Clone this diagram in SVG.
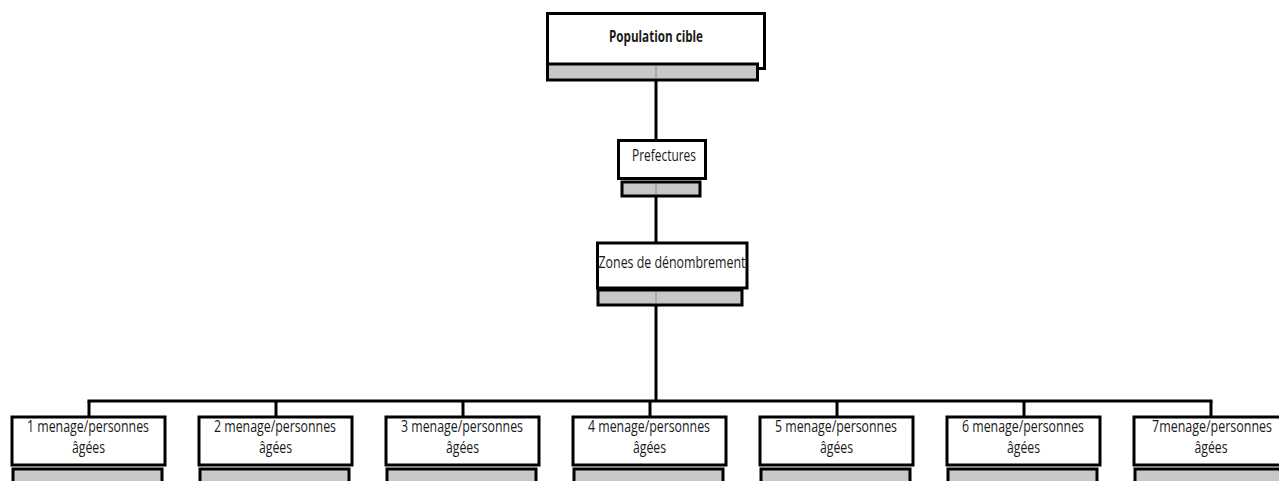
<svg xmlns="http://www.w3.org/2000/svg" width="1279" height="481" viewBox="0 0 1279 481">
<style>
.box{fill:#fff;stroke:#000;stroke-width:3}
.bar{fill:#c8c8c8;stroke:#000;stroke-width:3}
.stripe{stroke:#aaaaaa;stroke-width:2}
.con{stroke:#000;stroke-width:3;fill:none}
text{font-family:"Open Sans","Liberation Sans",sans-serif;font-size:16px;fill:#1a1a1a;text-anchor:middle}
.b{font-weight:bold}
</style>
<rect width="1279" height="481" fill="#fff"/>
<g id="connectors">
<line class="con" x1="656" y1="80" x2="656" y2="140"/>
<line class="con" x1="656" y1="196" x2="656" y2="243"/>
<line class="con" x1="656" y1="305" x2="656" y2="401"/>
<line class="con" x1="87.5" y1="401" x2="1212.5" y2="401"/>
<line class="con" x1="89" y1="401" x2="89" y2="417"/>
<line class="con" x1="276" y1="401" x2="276" y2="417"/>
<line class="con" x1="463" y1="401" x2="463" y2="417"/>
<line class="con" x1="650" y1="401" x2="650" y2="417"/>
<line class="con" x1="837" y1="401" x2="837" y2="417"/>
<line class="con" x1="1024" y1="401" x2="1024" y2="417"/>
<line class="con" x1="1211" y1="401" x2="1211" y2="417"/>
</g>
<g id="population">
<rect class="box" x="547.5" y="13.5" width="217" height="55"/>
<rect class="bar" x="547.5" y="64" width="210" height="16"/>
<line class="stripe" x1="656" y1="66" x2="656" y2="78"/>
<text class="b" x="656" y="42" textLength="94" lengthAdjust="spacingAndGlyphs">Population cible</text>
</g>
<g id="prefectures">
<rect class="box" x="618.5" y="140.5" width="87" height="38"/>
<rect class="bar" x="622" y="182" width="78" height="14"/>
<line class="stripe" x1="656" y1="184" x2="656" y2="194"/>
<text x="664" y="161" textLength="64" lengthAdjust="spacingAndGlyphs">Prefectures</text>
</g>
<g id="zones">
<rect class="box" x="597.5" y="243" width="149.5" height="45"/>
<rect class="bar" x="598" y="290" width="144" height="15"/>
<line class="stripe" x1="656" y1="292" x2="656" y2="303"/>
<text x="672" y="268" textLength="147" lengthAdjust="spacingAndGlyphs">Zones de dénombrement</text>
</g>
<g id="menage1">
<rect class="box" x="12" y="417" width="153" height="48"/>
<rect class="bar" x="13" y="469" width="149" height="20"/>
<text x="88" y="432" textLength="122" lengthAdjust="spacingAndGlyphs">1 menage/personnes</text>
<text x="88.5" y="453" textLength="33" lengthAdjust="spacingAndGlyphs">âgées</text>
</g>
<g id="menage2">
<rect class="box" x="199" y="417" width="153" height="48"/>
<rect class="bar" x="200" y="469" width="149" height="20"/>
<text x="275" y="432" textLength="122" lengthAdjust="spacingAndGlyphs">2 menage/personnes</text>
<text x="275.5" y="453" textLength="33" lengthAdjust="spacingAndGlyphs">âgées</text>
</g>
<g id="menage3">
<rect class="box" x="386" y="417" width="153" height="48"/>
<rect class="bar" x="387" y="469" width="149" height="20"/>
<text x="462" y="432" textLength="122" lengthAdjust="spacingAndGlyphs">3 menage/personnes</text>
<text x="462.5" y="453" textLength="33" lengthAdjust="spacingAndGlyphs">âgées</text>
</g>
<g id="menage4">
<rect class="box" x="573" y="417" width="153" height="48"/>
<rect class="bar" x="574" y="469" width="149" height="20"/>
<text x="649" y="432" textLength="122" lengthAdjust="spacingAndGlyphs">4 menage/personnes</text>
<text x="649.5" y="453" textLength="33" lengthAdjust="spacingAndGlyphs">âgées</text>
</g>
<g id="menage5">
<rect class="box" x="760" y="417" width="153" height="48"/>
<rect class="bar" x="761" y="469" width="149" height="20"/>
<text x="836" y="432" textLength="122" lengthAdjust="spacingAndGlyphs">5 menage/personnes</text>
<text x="836.5" y="453" textLength="33" lengthAdjust="spacingAndGlyphs">âgées</text>
</g>
<g id="menage6">
<rect class="box" x="947" y="417" width="153" height="48"/>
<rect class="bar" x="948" y="469" width="149" height="20"/>
<text x="1023" y="432" textLength="122" lengthAdjust="spacingAndGlyphs">6 menage/personnes</text>
<text x="1023.5" y="453" textLength="33" lengthAdjust="spacingAndGlyphs">âgées</text>
</g>
<g id="menage7">
<rect class="box" x="1134" y="417" width="153" height="48"/>
<rect class="bar" x="1135" y="469" width="149" height="20"/>
<text transform="translate(1212 432) scale(0.78 1)" x="0" y="0">7menage/personnes</text>
<text x="1211" y="453" textLength="33" lengthAdjust="spacingAndGlyphs">âgées</text>
</g>
</svg>
